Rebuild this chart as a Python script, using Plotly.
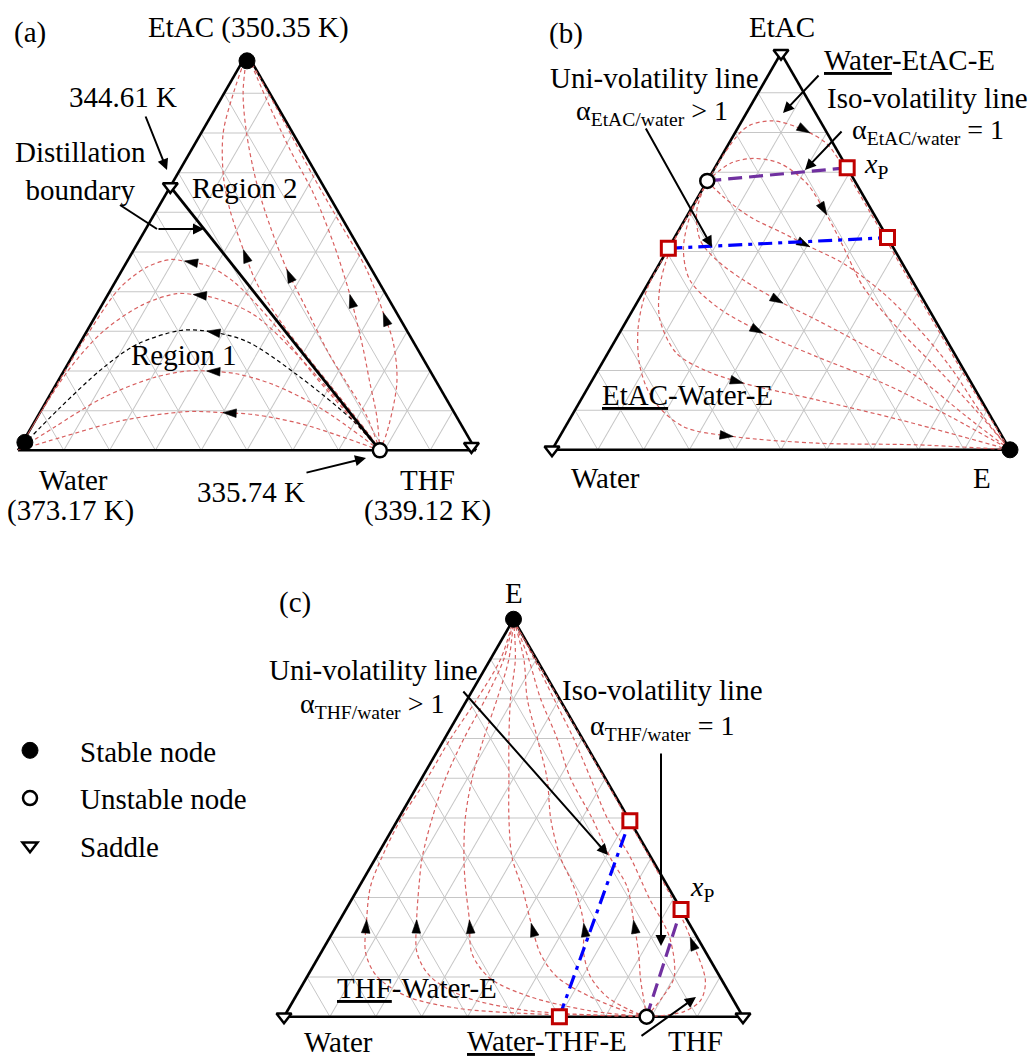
import plotly.graph_objects as go

FIG_W, FIG_H = 1030, 1057
FONT = "Liberation Serif"
RED = "rgb(216,96,96)"
GRID = "#c6c6c6"

# ===================== DATA (ternary compositions: (a-axis, c-axis)) =====================
# Panel (a): top = EtAC, left = Water, right = THF
A_BOUNDARY = [(0.665, 0.0), (0.0, 0.79)]
A_R1_1 = [(0.0, 0.79), (0.191, 0.55), (0.334, 0.38), (0.426, 0.257), (0.466, 0.18), (0.477, 0.125),
          (0.481, 0.092), (0.462, 0.051), (0.41, 0.018), (0.30, 0.006), (0.15, 0.002), (0.0, 0.0)]
A_R1_2 = [(0.0, 0.79), (0.225, 0.51), (0.343, 0.342), (0.385, 0.234), (0.393, 0.186), (0.395, 0.149),
          (0.368, 0.09), (0.30, 0.036), (0.208, 0.01), (0.10, 0.002), (0.0, 0.0)]
A_R1_SEP = [(0.0, 0.79), (0.074, 0.695), (0.191, 0.513), (0.275, 0.361), (0.3005, 0.262), (0.302, 0.203),
            (0.267, 0.126), (0.208, 0.082), (0.1075, 0.038), (0.0, 0.0)]
A_R1_3 = [(0.0, 0.79), (0.1075, 0.605), (0.166, 0.474), (0.193, 0.38), (0.2, 0.312), (0.2, 0.27),
          (0.183, 0.204), (0.133, 0.12), (0.057, 0.049), (0.0, 0.0)]
A_R1_4 = [(0.0, 0.79), (0.0655, 0.59), (0.09, 0.47), (0.095, 0.40), (0.0975, 0.319), (0.074, 0.186),
          (0.032, 0.076), (0.0, 0.0)]
A_R2_1 = [(0.0, 0.79), (0.028, 0.76), (0.12, 0.652), (0.229, 0.522), (0.322, 0.414), (0.422, 0.31),
          (0.506, 0.239), (0.607, 0.159), (0.691, 0.103), (0.80, 0.048), (0.901, 0.02), (1.0, 0.0)]
A_R2_2 = [(0.0, 0.79), (0.0865, 0.718), (0.1705, 0.632), (0.254, 0.547), (0.355, 0.453), (0.456, 0.359),
          (0.565, 0.268), (0.674, 0.184), (0.80, 0.099), (0.901, 0.041), (1.0, 0.0)]
A_R2_3 = [(0.0, 0.79), (0.0865, 0.74), (0.1705, 0.683), (0.254, 0.627), (0.393, 0.528), (0.523, 0.427),
          (0.649, 0.32), (0.758, 0.215), (0.884, 0.101), (1.0, 0.0)]
A_R2_4 = [(0.0, 0.79), (0.0446, 0.783), (0.1705, 0.742), (0.271, 0.684), (0.347, 0.624), (0.456, 0.533),
          (0.5735, 0.416), (0.691, 0.299), (0.825, 0.17), (0.943, 0.055), (1.0, 0.0)]
A_RED_CURVES = [A_R1_1, A_R1_2, A_R1_3, A_R1_4, A_R2_1, A_R2_2, A_R2_3, A_R2_4]
A_RED_ARROW_IDX = [5, 4, 4, 3, 6, 5, 4, 4]
A_SEP_ARROW_IDX = 4
A_STABLE = [(0.982, 0.009), (0.02, 0.005)]
A_UNSTABLE = [(0.0, 0.79)]
A_SADDLE = [(0.665, 0.0), (0.01, 0.985)]

# Panel (b): top = EtAC, left = Water, right = E
B_C1 = [(0.678, 0.0), (0.789, 0.008), (0.8186, 0.023), (0.8295, 0.068), (0.814, 0.127), (0.799, 0.164),
        (0.7725, 0.213), (0.73, 0.262), (0.60, 0.394), (0.45, 0.544), (0.30, 0.694), (0.15, 0.845), (0.0, 1.0)]
B_C2 = [(0.678, 0.0), (0.722, 0.028), (0.7346, 0.072), (0.722, 0.137), (0.672, 0.22), (0.592, 0.304),
        (0.512, 0.38), (0.411, 0.474), (0.30, 0.61), (0.20, 0.745), (0.10, 0.875), (0.0, 1.0)]
B_C3 = [(0.678, 0.0), (0.638, 0.055), (0.5877, 0.138), (0.546, 0.232), (0.512, 0.307), (0.47, 0.401),
        (0.395, 0.526), (0.3106, 0.641), (0.21, 0.764), (0.084, 0.90), (0.0, 1.0)]
B_C4 = [(0.678, 0.0), (0.6045, 0.014), (0.529, 0.059), (0.4786, 0.12), (0.428, 0.204), (0.3695, 0.32),
        (0.3275, 0.414), (0.26, 0.557), (0.1847, 0.704), (0.084, 0.863), (0.0, 1.0)]
B_C5 = [(0.678, 0.0), (0.5877, 0.007), (0.504, 0.035), (0.428, 0.087), (0.361, 0.179), (0.294, 0.314),
        (0.235, 0.46), (0.168, 0.639), (0.084, 0.827), (0.0, 1.0)]
B_C6 = [(0.678, 0.0), (0.504, 0.006), (0.411, 0.03), (0.3275, 0.072), (0.2435, 0.15), (0.20, 0.235),
        (0.168, 0.334), (0.126, 0.515), (0.0756, 0.722), (0.0, 1.0)]
B_C7 = [(0.678, 0.0), (0.546, 0.002), (0.411, 0.004), (0.3106, 0.033), (0.21, 0.087), (0.126, 0.158),
        (0.0587, 0.257), (0.0335, 0.379), (0.0168, 0.57), (0.0126, 0.79), (0.0, 1.0)]
B_RED_CURVES = [B_C1, B_C2, B_C3, B_C4, B_C5, B_C6, B_C7]
B_RED_ARROW_IDX = [5, 5, 4, 5, 5, 6, 7]
B_ISO = [(0.678, 0.0), (0.711, 0.289)]
B_UNI = [(0.508, 0.0), (0.535, 0.465)]
B_SQUARES = [(0.711, 0.289), (0.508, 0.0), (0.535, 0.465)]
B_STABLE = [(0.0, 1.0)]
B_UNSTABLE = [(0.678, 0.0)]
B_SADDLE = [(1.0, 0.0), (0.0, 0.0)]

# Panel (c): top = E, left = Water, right = THF
C_C1 = [(0.0, 0.79), (0.004, 0.668), (0.0084, 0.518), (0.0214, 0.367), (0.051, 0.243), (0.1013, 0.152),
        (0.16, 0.098), (0.244, 0.058), (0.328, 0.0245), (0.412, 0.0115), (0.5, 0.006), (0.6, 0.012),
        (0.7, 0.013), (0.8, 0.021), (0.9, 0.022), (1.0, 0.0)]
C_C2 = [(0.0, 0.79), (0.0168, 0.514), (0.051, 0.366), (0.1013, 0.268), (0.16, 0.21), (0.244, 0.167),
        (0.328, 0.13), (0.4, 0.101), (0.5, 0.073), (0.6, 0.052), (0.7, 0.042), (0.8, 0.039), (0.9, 0.029), (1.0, 0.0)]
C_C3 = [(0.0, 0.79), (0.015, 0.66), (0.05, 0.512), (0.097, 0.40), (0.159, 0.33), (0.243, 0.2825),
        (0.327, 0.232), (0.4, 0.192), (0.5, 0.145), (0.6, 0.11), (0.7, 0.085), (0.8, 0.0645), (0.9, 0.04), (1.0, 0.0)]
C_C4 = [(0.0, 0.79), (0.016, 0.732), (0.05, 0.643), (0.1, 0.545), (0.159, 0.479), (0.235, 0.421),
        (0.32, 0.36), (0.4, 0.297), (0.5, 0.24), (0.6, 0.19), (0.7, 0.14), (0.8, 0.0935), (0.9, 0.054), (1.0, 0.0)]
C_C5 = [(0.0, 0.79), (0.016, 0.747), (0.05, 0.679), (0.1, 0.618), (0.159, 0.5735), (0.235, 0.5355),
        (0.327, 0.468), (0.4, 0.4024), (0.495, 0.334), (0.6, 0.273), (0.7, 0.202), (0.8, 0.13), (0.9, 0.0725), (1.0, 0.0)]
C_C6 = [(0.0, 0.79), (0.042, 0.763), (0.092, 0.731), (0.159, 0.693), (0.243, 0.64), (0.327, 0.584),
        (0.4, 0.511), (0.5, 0.421), (0.6, 0.324), (0.7, 0.245), (0.8, 0.159), (0.9, 0.083), (1.0, 0.0)]
C_C7 = [(0.0, 0.79), (0.05, 0.80), (0.1, 0.80), (0.2, 0.74), (0.3, 0.645), (0.4, 0.555), (0.5, 0.454),
        (0.6, 0.368), (0.7, 0.281), (0.8, 0.188), (0.9, 0.095), (1.0, 0.0)]
C_C8 = [(0.0, 0.79), (0.013, 0.865), (0.042, 0.887), (0.092, 0.872), (0.2, 0.785), (0.27, 0.723),
        (0.4, 0.597), (0.5, 0.497), (0.6, 0.398), (0.7, 0.299), (0.8, 0.199), (0.9, 0.099), (1.0, 0.0)]
C_RED_CURVES = [C_C1, C_C2, C_C3, C_C4, C_C5, C_C6, C_C7, C_C8]
C_RED_ARROW_IDX = [7, 5, 5, 5, 5, 4, None, 4]
C_ISO = [(0.0, 0.79), (0.27, 0.73)]
C_UNI = [(0.0, 0.60), (0.493, 0.507)]
C_SQUARES = [(0.27, 0.73), (0.0, 0.60), (0.493, 0.507)]
C_STABLE = [(1.0, 0.0)]
C_UNSTABLE = [(0.0, 0.79)]
C_SADDLE = [(0.0, 0.0), (0.0, 1.0)]

# Panel placement (pixel box of each triangle: left, right, top, bottom)
PANELS = {"ternary": (18, 476, 53, 451), "ternary2": (552, 1010, 53, 450), "ternary3": (284, 743, 619, 1017)}


# ===================== helpers =====================
def abc(pts):
    a = [p[0] for p in pts]
    c = [p[1] for p in pts]
    b = [max(0.0, 1 - p[0] - p[1]) for p in pts]
    return a, b, c


def curve(pts, sub, color=RED, width=1.2, dash="4px,3px", shape="spline"):
    a, b, c = abc(pts)
    return go.Scatterternary(a=a, b=b, c=c, mode="lines", subplot=sub, showlegend=False, hoverinfo="skip",
                             line=dict(color=color, width=width, dash=dash, shape=shape, smoothing=0.9))


def arrows(curves, idxs, sub):
    pts, sizes = [], []
    for pts_c, k in zip(curves, idxs):
        if k is None:
            continue
        p, q, r = pts_c[k - 1], pts_c[k], pts_c[k + 1]
        tail = (q[0] - 0.15 * (r[0] - p[0]), q[1] - 0.15 * (r[1] - p[1]))
        pts += [tail, q]
        sizes += [0, 14]
    a, b, c = abc(pts)
    return go.Scatterternary(a=a, b=b, c=c, mode="markers", subplot=sub, showlegend=False, hoverinfo="skip",
                             cliponaxis=False,
                             marker=dict(symbol="arrow", size=sizes, color="black", opacity=1,
                                         angleref="previous", line=dict(width=0.6, color="black")))


def points(pts, sub, kind, name=None, legend=False):
    styles = {
        "stable": dict(symbol="circle", size=16, color="black", line=dict(color="black", width=1)),
        "unstable": dict(symbol="circle", size=14, color="white", line=dict(color="black", width=2.5)),
        "saddle": dict(symbol="triangle-down", size=13, color="white", line=dict(color="black", width=2.5)),
        "square": dict(symbol="square", size=14, color="white", line=dict(color="#c00000", width=3)),
    }
    a, b, c = abc(pts)
    return go.Scatterternary(a=a, b=b, c=c, mode="markers", subplot=sub, name=name, showlegend=legend,
                             legendgroup=kind, hoverinfo="skip", cliponaxis=False, marker=styles[kind])


fig = go.Figure()

# panel (a)
for crv in A_RED_CURVES:
    fig.add_trace(curve(crv, "ternary"))
fig.add_trace(curve(A_R1_SEP, "ternary", color="black"))
fig.add_trace(curve(A_BOUNDARY, "ternary", color="black", width=2.8, dash="solid", shape="linear"))
fig.add_trace(arrows(A_RED_CURVES + [A_R1_SEP], A_RED_ARROW_IDX + [A_SEP_ARROW_IDX], "ternary"))
fig.add_trace(points(A_STABLE, "ternary", "stable", "Stable node", True))
fig.add_trace(points(A_UNSTABLE, "ternary", "unstable", "Unstable node", True))
fig.add_trace(points(A_SADDLE, "ternary", "saddle", "Saddle", True))

# panel (b)
for crv in B_RED_CURVES:
    fig.add_trace(curve(crv, "ternary2"))
fig.add_trace(arrows(B_RED_CURVES, B_RED_ARROW_IDX, "ternary2"))
fig.add_trace(curve(B_ISO, "ternary2", color="#7030a0", width=3.2, dash="14px,7px", shape="linear"))
fig.add_trace(curve(B_UNI, "ternary2", color="#0000ff", width=3.2, dash="14px,6px,4px,6px", shape="linear"))
fig.add_trace(points(B_SQUARES, "ternary2", "square"))
fig.add_trace(points(B_STABLE, "ternary2", "stable"))
fig.add_trace(points(B_UNSTABLE, "ternary2", "unstable"))
fig.add_trace(points(B_SADDLE, "ternary2", "saddle"))

# panel (c)
for crv in C_RED_CURVES:
    fig.add_trace(curve(crv, "ternary3"))
fig.add_trace(arrows(C_RED_CURVES, C_RED_ARROW_IDX, "ternary3"))
fig.add_trace(curve(C_ISO, "ternary3", color="#7030a0", width=3.2, dash="14px,7px", shape="linear"))
fig.add_trace(curve(C_UNI, "ternary3", color="#0000ff", width=3.2, dash="14px,6px,4px,6px", shape="linear"))
fig.add_trace(points(C_SQUARES, "ternary3", "square"))
fig.add_trace(points(C_STABLE, "ternary3", "stable"))
fig.add_trace(points(C_UNSTABLE, "ternary3", "unstable"))
fig.add_trace(points(C_SADDLE, "ternary3", "saddle"))


def X(px):
    return px / FIG_W


def Y(py):
    return 1 - py / FIG_H


def axis():
    return dict(showgrid=True, gridcolor=GRID, gridwidth=1, dtick=0.1, tick0=0, showticklabels=False,
                ticks="", linecolor="black", linewidth=2.6, showline=True, title=dict(text=""),
                layer="below traces", min=0)


tern_layouts = {}
for name, (xl, xr, yt, yb) in PANELS.items():
    tern_layouts[name] = dict(domain=dict(x=[X(xl), X(xr)], y=[Y(yb + 3), Y(yt - 3)]), bgcolor="white",
                              sum=1, aaxis=axis(), baxis=axis(), caxis=axis())

# ---------------- text labels: (text, x_px, y_px, font size) ----------------
BIG, MID = 29, 28
LABELS = [
    # panel (a)
    ("(a)", 30, 32, BIG), ("EtAC (350.35 K)", 248, 27, BIG), ("344.61 K", 123, 97, BIG),
    ("Distillation<br>boundary", 80, 171, BIG), ("Region 2", 245, 188, BIG), ("Region 1", 184, 355, BIG),
    ("Water", 73, 480, BIG), ("(373.17 K)", 70, 510, BIG), ("335.74 K", 251, 492, BIG),
    ("THF", 427, 480, BIG), ("(339.12 K)", 427, 510, BIG),
    # panel (b)
    ("(b)", 566, 33, BIG), ("EtAC", 782, 27, BIG), ("<u>Water</u>-EtAC-E", 909, 60, BIG),
    ("Iso-volatility line", 927, 98, BIG), ("α<sub>EtAC/water</sub> = 1", 928, 131, MID),
    ("<i>x</i><sub>P</sub>", 876, 166, MID), ("Uni-volatility line", 654, 78, BIG),
    ("α<sub>EtAC/water</sub> > 1", 652, 113, MID), ("<u>EtAC</u>-Water-E", 687, 395, BIG),
    ("Water", 605, 478, BIG), ("E", 982, 478, BIG),
    # panel (c)
    ("(c)", 295, 602, BIG), ("E", 514, 593, BIG), ("Uni-volatility line", 373, 670, BIG),
    ("α<sub>THF/water</sub> > 1", 372, 705, MID), ("Iso-volatility line", 662, 690, BIG),
    ("α<sub>THF/water</sub> = 1", 662, 727, MID), ("<i>x</i><sub>P</sub>", 702, 888, MID),
    ("<u>THF</u>-Water-E", 417, 988, BIG), ("<u>Water</u>-THF-E", 547, 1041, BIG),
    ("Water", 338, 1042, BIG), ("THF", 695, 1041, BIG),
]
# callout arrows: (tail_x, tail_y, head_x, head_y)
CALLOUTS = [
    (145, 115, 167, 170), (157, 229, 204, 229), (305, 473, 366, 458),
    (820, 74, 783, 113), (843, 130, 805, 170), (645, 127, 712, 247),
    (462, 690, 608, 855), (661, 752, 661, 946), (640, 1037, 696, 997),
]
CALLOUT_LINES = [(120, 205, 157, 229)]

annotations = []
for txt, x, y, fs in LABELS:
    annotations.append(dict(text=txt, x=X(x), y=Y(y), xref="paper", yref="paper", xanchor="center",
                            yanchor="middle", showarrow=False, align="center",
                            font=dict(family=FONT, size=fs, color="black")))
for tx, ty, hx, hy in CALLOUTS:
    annotations.append(dict(text="", x=X(hx), y=Y(hy), xref="paper", yref="paper", showarrow=True,
                            ax=tx - hx, ay=ty - hy, axref="pixel", ayref="pixel", arrowhead=2,
                            arrowsize=1.1, arrowwidth=2, arrowcolor="black", standoff=0, startstandoff=0))
shapes = [dict(type="line", xref="paper", yref="paper", x0=X(x0), y0=Y(y0), x1=X(x1), y1=Y(y1),
               line=dict(color="black", width=2)) for x0, y0, x1, y1 in CALLOUT_LINES]

fig.update_layout(
    width=FIG_W, height=FIG_H, margin=dict(l=0, r=0, t=0, b=0, autoexpand=False),
    paper_bgcolor="white", plot_bgcolor="white",
    annotations=annotations, shapes=shapes,
    legend=dict(x=X(-20), y=Y(725), xanchor="left", yanchor="top", bgcolor="rgba(0,0,0,0)",
                font=dict(family=FONT, size=29, color="black"), itemwidth=90, tracegroupgap=7,
                traceorder="grouped"),
    **tern_layouts,
)

fig.write_html("out.html")
